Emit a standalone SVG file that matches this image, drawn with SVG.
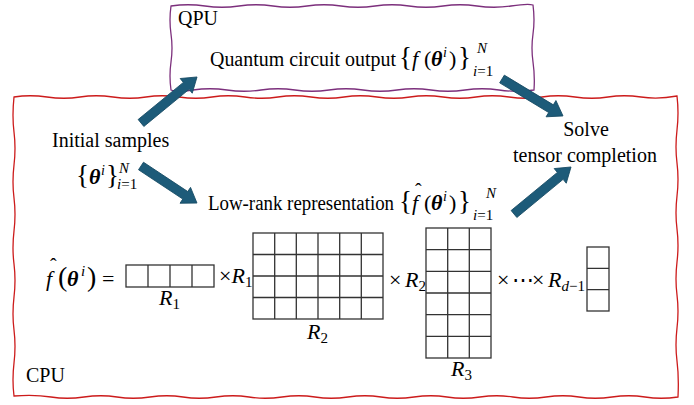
<svg xmlns="http://www.w3.org/2000/svg" width="694" height="405" viewBox="0 0 694 405">
<style>
.t{font-family:"Liberation Serif","Times New Roman",serif;font-size:20px;fill:#000}
.m{font-family:"Liberation Serif","Times New Roman",serif;font-size:22px;fill:#000;font-style:italic}
.b{font-weight:bold;font-style:italic}
.u{font-style:normal}
.s{font-size:15px}
.br{font-style:normal;font-size:27px}
.g{fill:none;stroke:#333;stroke-width:1.3}
.arr{fill:#1d5b79;stroke:#164a63;stroke-width:0.8}
</style>
<rect width="694" height="405" fill="#fff"/>
<g id="cpu">
<path d="M14,97 Q30,94.5 47,97 T80,97 T113,97 T146,97 T179,97 T212,97 T245,97 T278,97 T311,97 T344,97 T377,97 T410,97 T443,97 T476,97 T509,97 T542,97 T575,97 T608,97 T641,97 T677,96 Q679,113 677,130 T677,163 T677,196 T677,229 T677,262 T677,295 T677,328 T677,361 T678,397 Q661,399.5 645,397 T612,397 T579,397 T546,397 T513,397 T480,397 T447,397 T414,397 T381,397 T348,397 T315,397 T282,397 T249,397 T216,397 T183,397 T150,397 T117,397 T84,397 T51,397 T14,396 Q12,380 14,363 T14,330 T14,297 T14,264 T14,231 T14,198 T14,165 T14,132 T14,97 Z" fill="none" stroke="#cc1b1b" stroke-width="1.3"/>
<text class="t" x="26" y="382">CPU</text>
</g>
<g id="qpu">
<path d="M171,6 Q188,3.5 205,6 T239,6 T273,6 T307,6 T341,6 T375,6 T409,6 T443,6 T477,6 T511,6 T533,5 Q535,20 533,34 T533,62 T534,90 Q516,92.5 499,90 T465,90 T431,90 T397,90 T363,90 T329,90 T295,90 T261,90 T227,90 T193,90 T171,90 Q169,76 171,62 T171,34 T171,6 Z" fill="#fff" stroke="#7c2f7c" stroke-width="1.3"/>
<text class="t" x="178" y="25">QPU</text>
</g>
<g id="quantum-output">
<text class="t" x="210" y="66" textLength="186" lengthAdjust="spacingAndGlyphs">Quantum circuit output</text>
<text class="m" y="66"><tspan class="br" x="399">{</tspan><tspan x="412">f</tspan><tspan class="u" x="424">(</tspan><tspan class="b" x="431">θ</tspan><tspan x="443" y="57" font-size="14">i</tspan><tspan class="u" x="449" y="66">)</tspan><tspan class="br" x="458">}</tspan></text>
<text class="m s" x="477" y="53">N</text>
<text class="m s" x="473" y="76">i<tspan class="u">=1</tspan></text>
</g>
<g id="initial-samples">
<text class="t" x="52" y="147" font-size="20.6">Initial samples</text>
<text class="m" y="184"><tspan class="br" x="76">{</tspan><tspan class="b" x="89">θ</tspan><tspan x="101" y="175" font-size="14">i</tspan><tspan class="br" x="106" y="184">}</tspan></text>
<text class="m s" x="119" y="173">N</text>
<text class="m s" x="117" y="189">i<tspan class="u">=1</tspan></text>
</g>
<g id="low-rank">
<text class="t" x="208" y="210" textLength="186" lengthAdjust="spacingAndGlyphs">Low-rank representation</text>
<text class="m" y="210"><tspan class="br" x="399">{</tspan><tspan x="412">f</tspan><tspan class="u" x="424">(</tspan><tspan class="b" x="431">θ</tspan><tspan x="443" y="201" font-size="14">i</tspan><tspan class="u" x="449" y="210">)</tspan><tspan class="br" x="458">}</tspan></text>
<text class="t" x="415" y="198" font-size="16">ˆ</text>
<text class="m s" x="486" y="198">N</text>
<text class="m s" x="473" y="220">i<tspan class="u">=1</tspan></text>
</g>
<g id="solve">
<text class="t" x="586" y="136" text-anchor="middle" font-size="20.6">Solve</text>
<text class="t" x="585" y="162" text-anchor="middle" font-size="20.6">tensor completion</text>
</g>
<g id="formula">
<text class="m" y="286" font-size="24"><tspan x="46">f</tspan><tspan class="u" x="58" font-size="28">(</tspan><tspan class="b" x="67">θ</tspan><tspan x="81" y="276" font-size="15">i</tspan><tspan class="u" x="87" y="286" font-size="28">)</tspan><tspan class="u" x="102">=</tspan></text>
<text class="t" x="50" y="273" font-size="18">ˆ</text>
</g>
<g id="core-1">
<rect class="g" x="126" y="265" width="88" height="22"/>
<path class="g" d="M148,265V287M170,265V287M192,265V287"/>
<text class="m" x="159" y="305" font-size="20">R<tspan class="u s" dy="4">1</tspan></text>
</g>
<text class="m" x="219" y="283" font-size="20"><tspan class="u">×</tspan>R<tspan class="u s" dy="4">1</tspan></text>
<g id="core-2">
<rect class="g" x="253" y="233" width="130" height="86"/>
<path class="g" d="M274.7,233V319M296.3,233V319M318,233V319M339.7,233V319M361.3,233V319M253,254.5H383M253,276H383M253,297.5H383"/>
<text class="m" x="307" y="339" font-size="20">R<tspan class="u s" dy="4">2</tspan></text>
</g>
<text class="m" x="389" y="287" font-size="20"><tspan class="u">×</tspan><tspan x="405">R</tspan><tspan class="u s" dy="4">2</tspan></text>
<g id="core-3">
<rect class="g" x="426" y="228" width="65" height="130"/>
<path class="g" d="M447.7,228V358M469.3,228V358M426,249.7H491M426,271.3H491M426,293H491M426,314.7H491M426,336.3H491"/>
<text class="m" x="451" y="376" font-size="20">R<tspan class="u s" dy="4">3</tspan></text>
</g>
<text class="m" x="497" y="287" font-size="20"><tspan class="u">×</tspan><tspan class="u" x="512">⋯</tspan><tspan class="u" x="532">×</tspan><tspan x="548">R</tspan><tspan class="s" dy="4">d</tspan><tspan class="u s">−1</tspan></text>
<g id="core-d">
<rect class="g" x="587" y="247" width="22" height="64"/>
<path class="g" d="M587,268.3H609M587,289.7H609"/>
</g>
<g id="connectors">
<path class="arr" transform="translate(141,123) rotate(-39.4)" d="M0,-4.5H58.5V-9.5L72.5,0L58.5,9.5V4.5H0Z"/>
<path class="arr" transform="translate(502,79) rotate(31.2)" d="M0,-4.5H57.3V-9.5L71.3,0L57.3,9.5V4.5H0Z"/>
<path class="arr" transform="translate(141,166) rotate(33.5)" d="M0,-4.5H53.1V-9.5L67.1,0L53.1,9.5V4.5H0Z"/>
<path class="arr" transform="translate(514,214) rotate(-39.5)" d="M0,-4.5H59.9V-9.5L73.9,0L59.9,9.5V4.5H0Z"/>
</g>
</svg>
